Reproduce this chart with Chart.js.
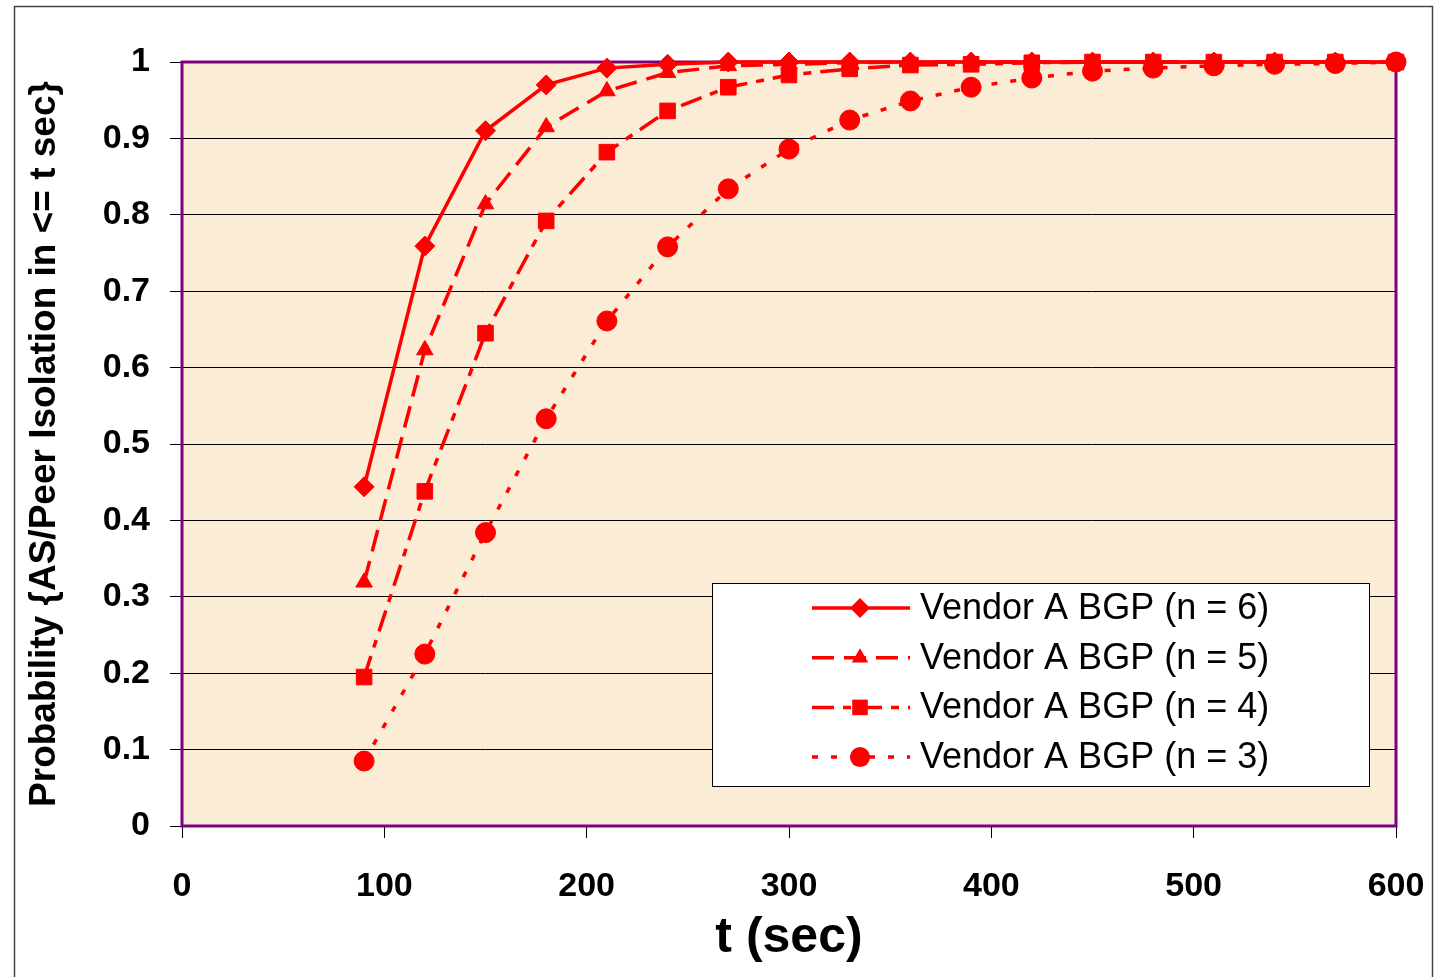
<!DOCTYPE html>
<html>
<head>
  <title>AS/Peer Isolation Time</title>
  <script src="https://cdn.jsdelivr.net/npm/chart.js"></script>
  <style>
    html, body { margin: 0; padding: 0; background: #fff; }
    #wrap { width: 1441px; height: 977px; }
  </style>
</head>
<body>
<div id="wrap"><canvas id="myChart" width="1441" height="977"></canvas></div>

<script>
// sample times (sec)
var times = [90, 120, 150, 180, 210, 240, 270, 300, 330, 360, 390, 420, 450, 480, 510, 540, 570, 600];

// probability of isolation within t seconds, per MRAI multiplier n
var n6 = [0.444, 0.759, 0.910, 0.970, 0.992, 0.997, 1.0, 1.0, 1.0, 1.0, 1.0, 1.0, 1.0, 1.0, 1.0, 1.0, 1.0, 1.0];
var n5 = [0.319, 0.623, 0.814, 0.915, 0.962, 0.986, 0.995, 0.997, 0.999, 1.0, 1.0, 1.0, 1.0, 1.0, 1.0, 1.0, 1.0, 1.0];
var n4 = [0.195, 0.438, 0.645, 0.792, 0.882, 0.936, 0.967, 0.983, 0.991, 0.996, 0.997, 0.999, 1.0, 1.0, 1.0, 1.0, 1.0, 1.0];
var n3 = [0.085, 0.225, 0.384, 0.533, 0.661, 0.758, 0.834, 0.886, 0.924, 0.949, 0.967, 0.979, 0.988, 0.992, 0.995, 0.997, 0.998, 1.0];

var seriesNames = ['Vendor A BGP (n = 6)', 'Vendor A BGP (n = 5)', 'Vendor A BGP (n = 4)', 'Vendor A BGP (n = 3)'];

var FONT = "'Liberation Sans', Arial, sans-serif";
var RED = '#ff0000';

function pts(ys) {
  return times.map(function (t, i) { return { x: t, y: ys[i] }; });
}

function series(label, ys, shape, radius, dash) {
  return {
    label: label,
    data: pts(ys),
    borderColor: RED,
    backgroundColor: RED,
    borderWidth: 3.5,
    borderDash: dash,
    pointStyle: shape,
    pointRadius: radius,
    pointHoverRadius: radius,
    pointBackgroundColor: RED,
    pointBorderColor: RED,
    pointBorderWidth: 1,
    tension: 0,
    clip: false
  };
}

// small marker painter for the legend samples
function marker(ctx, shape, r, x, y) {
  ctx.beginPath();
  if (shape === 'rectRot') {
    ctx.moveTo(x, y - r); ctx.lineTo(x + r, y); ctx.lineTo(x, y + r); ctx.lineTo(x - r, y);
  } else if (shape === 'triangle') {
    ctx.moveTo(x, y - r);
    ctx.lineTo(x + r * Math.sin(Math.PI * 2 / 3), y - r * Math.cos(Math.PI * 2 / 3));
    ctx.lineTo(x - r * Math.sin(Math.PI * 2 / 3), y - r * Math.cos(Math.PI * 2 / 3));
  } else if (shape === 'rect') {
    var s = r * Math.SQRT1_2;
    ctx.rect(x - s, y - s, 2 * s, 2 * s);
  } else {
    ctx.arc(x, y, r, 0, Math.PI * 2);
  }
  ctx.closePath();
  ctx.fill();
}

var framePlugin = {
  id: 'frame',
  beforeDraw: function (chart) {
    var ctx = chart.ctx, a = chart.chartArea;
    ctx.save();
    ctx.fillStyle = '#ffffff';
    ctx.fillRect(0, 0, chart.width, chart.height);
    ctx.fillStyle = '#faecd5';
    ctx.fillRect(a.left, a.top, a.right - a.left, a.bottom - a.top);
    ctx.strokeStyle = '#444444';
    ctx.lineWidth = 1.5;
    ctx.strokeRect(14.5, 6.5, 1418, 1000);
    ctx.restore();
  },
  beforeDatasetsDraw: function (chart) {
    var ctx = chart.ctx, a = chart.chartArea;
    ctx.save();
    ctx.strokeStyle = '#800080';
    ctx.lineWidth = 3;
    ctx.strokeRect(a.left, a.top, a.right - a.left, a.bottom - a.top);
    ctx.restore();
  },
  afterDraw: function (chart) {
    var ctx = chart.ctx;
    var box = { x: 712.5, y: 583.5, w: 657, h: 203 };
    ctx.save();
    ctx.fillStyle = '#ffffff';
    ctx.fillRect(box.x, box.y, box.w, box.h);
    ctx.strokeStyle = '#000000';
    ctx.lineWidth = 1;
    ctx.strokeRect(box.x, box.y, box.w, box.h);
    chart.data.datasets.forEach(function (ds, i) {
      var y = 608 + i * 49.7;
      ctx.strokeStyle = RED;
      ctx.lineWidth = 3.5;
      ctx.setLineDash(ds.borderDash || []);
      ctx.beginPath();
      ctx.moveTo(812, y);
      ctx.lineTo(910, y);
      ctx.stroke();
      ctx.setLineDash([]);
      ctx.fillStyle = RED;
      marker(ctx, ds.pointStyle, ds.pointRadius, 860, y);
      ctx.fillStyle = '#000000';
      ctx.font = '36px ' + FONT;
      ctx.textAlign = 'left';
      ctx.textBaseline = 'middle';
      ctx.fillText(ds.label, 920, y + 1);
    });
    ctx.restore();
  }
};

var ctx = document.getElementById('myChart').getContext('2d');
var chart = new Chart(ctx, {
  type: 'line',
  data: {
    datasets: [
      series(seriesNames[0], n6, 'rectRot', 10, []),
      series(seriesNames[1], n5, 'triangle', 9.5, [22, 10]),
      series(seriesNames[2], n4, 'rect', 11, [22, 9, 8, 9]),
      series(seriesNames[3], n3, 'circle', 10, [6, 13])
    ]
  },
  options: {
    responsive: false,
    animation: false,
    layout: { padding: { top: 62, right: 45, left: 0, bottom: 0 } },
    plugins: {
      legend: { display: false },
      tooltip: { enabled: false }
    },
    scales: {
      x: {
        type: 'linear',
        min: 0,
        max: 600,
        afterFit: function (s) {
          s.height = 151;
          s.paddingLeft = 0;
          s.paddingRight = 0;
        },
        ticks: {
          stepSize: 100,
          color: '#000',
          padding: 28,
          maxRotation: 0,
          font: { family: FONT, size: 34, weight: 'bold' }
        },
        grid: { drawOnChartArea: false, drawTicks: true, tickLength: 12, color: '#000', lineWidth: 1 },
        border: { display: false },
        title: {
          display: true,
          text: 't (sec)',
          color: '#000',
          font: { family: FONT, size: 50, weight: 'bold' },
          padding: { top: 0, bottom: 9 }
        }
      },
      y: {
        min: 0,
        max: 1,
        afterFit: function (s) {
          s.width = 182;
          s.paddingTop = 0;
          s.paddingBottom = 0;
        },
        ticks: {
          stepSize: 0.1,
          color: '#000',
          padding: 20,
          font: { family: FONT, size: 34, weight: 'bold' },
          callback: function (v) { return String(Math.round(v * 10) / 10); }
        },
        grid: { color: '#000', lineWidth: 1, tickLength: 12 },
        border: { display: false },
        title: {
          display: true,
          text: 'Probability {AS/Peer Isolation in <= t sec}',
          color: '#000',
          font: { family: FONT, size: 37, weight: 'bold' },
          padding: { top: 23, bottom: 0 }
        }
      }
    }
  },
  plugins: [framePlugin]
});
</script>
</body>
</html>
